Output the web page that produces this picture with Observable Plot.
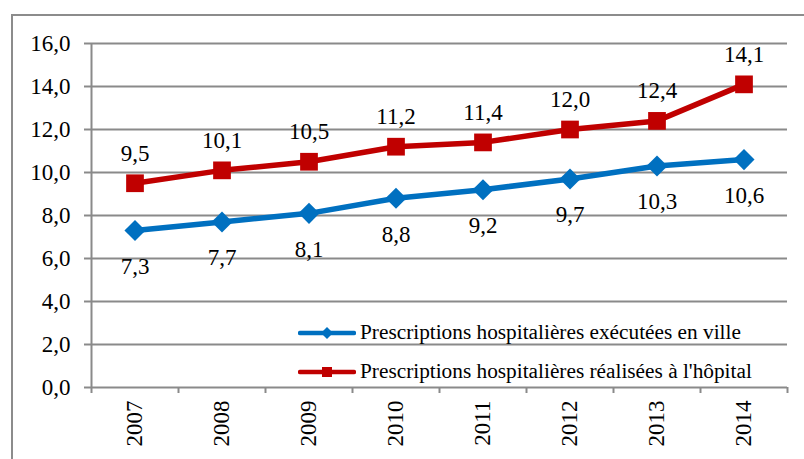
<!DOCTYPE html>
<html>
<head>
<meta charset="utf-8">
<script src="https://cdn.jsdelivr.net/npm/d3@7"></script>
<script src="https://cdn.jsdelivr.net/npm/@observablehq/plot@0.6"></script>
<style>
  html, body { margin: 0; padding: 0; background: #fff; overflow: hidden; width: 804px; height: 459px; }
  #wrap { position: relative; width: 804px; height: 459px; }
  #frame { position: absolute; left: 11px; top: 14px; width: 820px; height: 480px; border: 2px solid #8c8c8c; box-sizing: border-box; pointer-events: none; }
  #chart { position: absolute; left: 0; top: 0; }
  #chart svg text { font-family: 'Liberation Serif', 'Times New Roman', serif !important; }
  #legend { position: absolute; left: 298px; top: 313px; font-family: 'Liberation Serif', 'Times New Roman', serif; font-size: 21.3px; color: #000; }
  .entry { display: flex; align-items: center; height: 39px; white-space: nowrap; }
  .entry svg { margin-right: 4px; }
</style>
</head>
<body>
<div id="wrap">
  <div id="chart"></div>
  <div id="frame"></div>
  <div id="legend"></div>
</div>
<script>
const years = [2007, 2008, 2009, 2010, 2011, 2012, 2013, 2014];
const ville = [7.3, 7.7, 8.1, 8.8, 9.2, 9.7, 10.3, 10.6];
const hopital = [9.5, 10.1, 10.5, 11.2, 11.4, 12.0, 12.4, 14.1];
const seriesNames = ["Prescriptions hospitalières exécutées en ville", "Prescriptions hospitalières réalisées à l'hôpital"];
const seriesColors = ["#0070C0", "#C00000"];
const yTicks = [0, 2, 4, 6, 8, 10, 12, 14, 16];

const fmt = v => v.toFixed(1).replace(".", ",");
const dVille = years.map((y, i) => ({year: y, value: ville[i]}));
const dHop = years.map((y, i) => ({year: y, value: hopital[i]}));
const bounds = [years[0] - 0.5, ...years.map(y => y + 0.5)];
const font = "'Liberation Serif', 'Times New Roman', serif";
const grid = "#8a8a8a";
const fs = 23;

const chart = Plot.plot({
  width: 804,
  height: 459,
  marginLeft: 91,
  marginRight: 17,
  marginTop: 43,
  marginBottom: 72,
  style: `font-family: ${font}; font-size: ${fs}px; background: transparent; color: #000;`,
  x: {type: "linear", domain: [bounds[0], bounds[bounds.length - 1]]},
  y: {domain: [0, 16]},
  marks: [
    Plot.ruleY(yTicks, {stroke: grid, strokeWidth: 2}),
    Plot.axisY({ticks: yTicks, tickFormat: fmt, tickSize: 7, tickPadding: 14, stroke: grid, strokeWidth: 2, label: null, fontSize: fs}),
    Plot.ruleX([bounds[0]], {stroke: grid, strokeWidth: 2}),
    Plot.axisX({ticks: bounds, tickFormat: () => "", tickSize: 6, stroke: grid, strokeWidth: 2, label: null}),
    Plot.axisX({ticks: years, tickFormat: d => String(d), tickSize: 0, tickPadding: 13, tickRotate: -90, label: null, fontSize: fs}),
    Plot.line(dVille, {x: "year", y: "value", stroke: seriesColors[0], strokeWidth: 5.5}),
    Plot.line(dHop, {x: "year", y: "value", stroke: seriesColors[1], strokeWidth: 5.5}),
    Plot.dot(dVille, {x: "year", y: "value", symbol: "diamond2", r: 9.5, fill: seriesColors[0], stroke: null}),
    Plot.dot(dHop, {x: "year", y: "value", symbol: "square", r: 10, fill: seriesColors[1], stroke: null}),
    Plot.text(dVille, {x: "year", y: "value", text: d => fmt(d.value), dy: 36, fontSize: fs, fill: "#000"}),
    Plot.text(dHop, {x: "year", y: "value", text: d => fmt(d.value), dy: -30, fontSize: fs, fill: "#000"})
  ]
});
document.getElementById("chart").appendChild(chart);

// legend
const legend = document.getElementById("legend");
seriesNames.forEach((name, i) => {
  const row = document.createElement("div");
  row.className = "entry";
  const marker = i === 0
    ? `<path d="M29,5 L35,11 L29,17 L23,11 Z" fill="${seriesColors[i]}"/>`
    : `<rect x="24" y="6" width="10" height="10" fill="${seriesColors[i]}"/>`;
  row.innerHTML = `<svg width="58" height="22"><line x1="2" x2="56" y1="11" y2="11" stroke="${seriesColors[i]}" stroke-width="4.5" stroke-linecap="round"/>${marker}</svg><span>${name}</span>`;
  legend.appendChild(row);
});
</script>
</body>
</html>
